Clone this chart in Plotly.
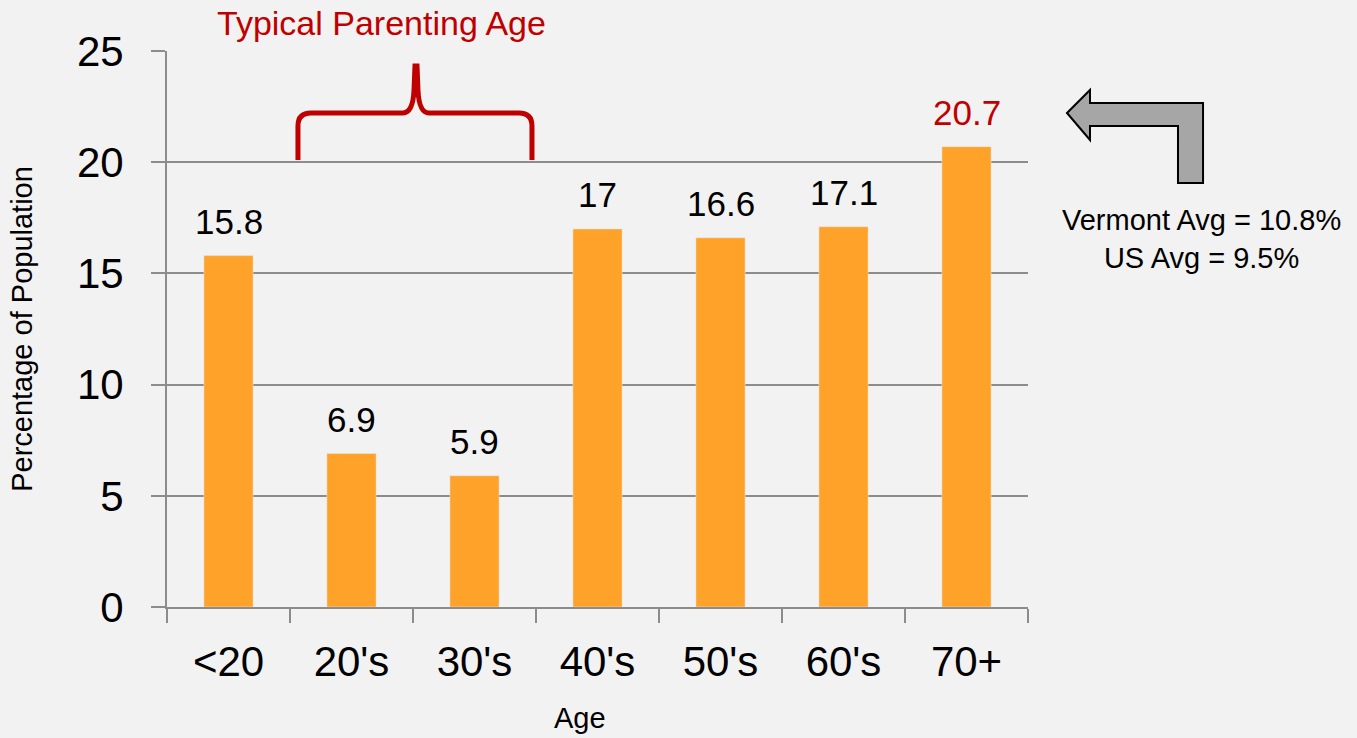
import plotly.graph_objects as go

categories = ["<20", "20's", "30's", "40's", "50's", "60's", "70+"]
values = [15.8, 6.9, 5.9, 17, 16.6, 17.1, 20.7]
label_colors = ["#000000"] * 6 + ["#C00000"]
y_ticks = [0, 5, 10, 15, 20, 25]

W, H = 1357, 738
L, R, T, B = 167, 1028, 51, 607


def px(x, y):
    return (x - L) / (R - L), (B - y) / (B - T)


def P(x, y):
    a, b = px(x, y)
    return f"{a:.4f},{b:.4f}"


fig = go.Figure()
fig.add_trace(go.Bar(x=categories, y=values, marker_color="#FFA229",
                     width=0.4, hoverinfo="x+y"))

for c, v, col in zip(categories, values, label_colors):
    fig.add_annotation(x=c, y=v, text=str(v), showarrow=False, yshift=34,
                       font=dict(family="Liberation Sans, Arial", size=35, color=col))

# brace
brace = ("M " + P(298, 160) + " L " + P(298, 126) + " Q " + P(298, 113) + " " + P(311, 113)
         + " L " + P(403, 113) + " Q " + P(413, 113) + " " + P(414, 90) + " L " + P(415, 66)
         + " L " + P(417, 66) + " L " + P(418, 90) + " Q " + P(419, 113) + " " + P(429, 113)
         + " L " + P(519, 113) + " Q " + P(532, 113) + " " + P(532, 126) + " L " + P(532, 160))
fig.add_shape(type="path", xref="paper", yref="paper", path=brace,
              line=dict(color="#C00000", width=5))

arrow_pts = [(1067, 113), (1090, 90), (1090, 103), (1203, 103), (1203, 183),
             (1178, 183), (1178, 126), (1090, 126), (1090, 140)]
arrow = "M " + " L ".join(P(x, y) for x, y in arrow_pts) + " Z"
fig.add_shape(type="path", xref="paper", yref="paper", path=arrow,
              fillcolor="#A6A6A6", line=dict(color="#000000", width=2))

tx, ty = px(381, 23)
fig.add_annotation(xref="paper", yref="paper", x=tx, y=ty, text="Typical Parenting Age",
                   showarrow=False, xanchor="center", yanchor="middle",
                   font=dict(family="Liberation Sans, Arial", size=34, color="#C00000"))
vx, vy = px(1201, 239)
fig.add_annotation(xref="paper", yref="paper", x=vx, y=vy,
                   text="Vermont Avg = 10.8%<br>US Avg = 9.5%",
                   showarrow=False, xanchor="center", yanchor="middle",
                   font=dict(family="Liberation Sans, Arial", size=29, color="#000000"))
ax_, ay_ = px(580, 718)
fig.add_annotation(xref="paper", yref="paper", x=ax_, y=ay_, text="Age",
                   showarrow=False, xanchor="center", yanchor="middle",
                   font=dict(family="Liberation Sans, Arial", size=29, color="#000000"))

fig.update_layout(
    width=W, height=H,
    margin=dict(l=L, r=W - R, t=T, b=H - B),
    paper_bgcolor="#F2F2F2", plot_bgcolor="#F2F2F2",
    showlegend=False, bargap=0.6,
    font=dict(family="Liberation Sans, Arial", color="#000000"),
    xaxis=dict(showline=True, linecolor="#8C8C8C", linewidth=2,
               ticks="outside", tickson="boundaries", ticklen=14, tickcolor="#8C8C8C", tickwidth=2,
               tickfont=dict(size=42), ticklabelstandoff=17),
    yaxis=dict(range=[0, 25], tickvals=y_ticks, showgrid=True, gridcolor="#8C8C8C", gridwidth=1.5,
               showline=True, linecolor="#8C8C8C", linewidth=2, zeroline=False,
               ticks="outside", ticklen=14, tickcolor="#8C8C8C", tickwidth=2,
               tickfont=dict(size=42), ticklabelstandoff=19,
               title=dict(text="Percentage of Population", font=dict(size=29), standoff=36)),
)

fig.write_html("out.html", config={"displayModeBar": False},
               post_script="document.body.style.margin='0';document.body.style.background='#F2F2F2';")
